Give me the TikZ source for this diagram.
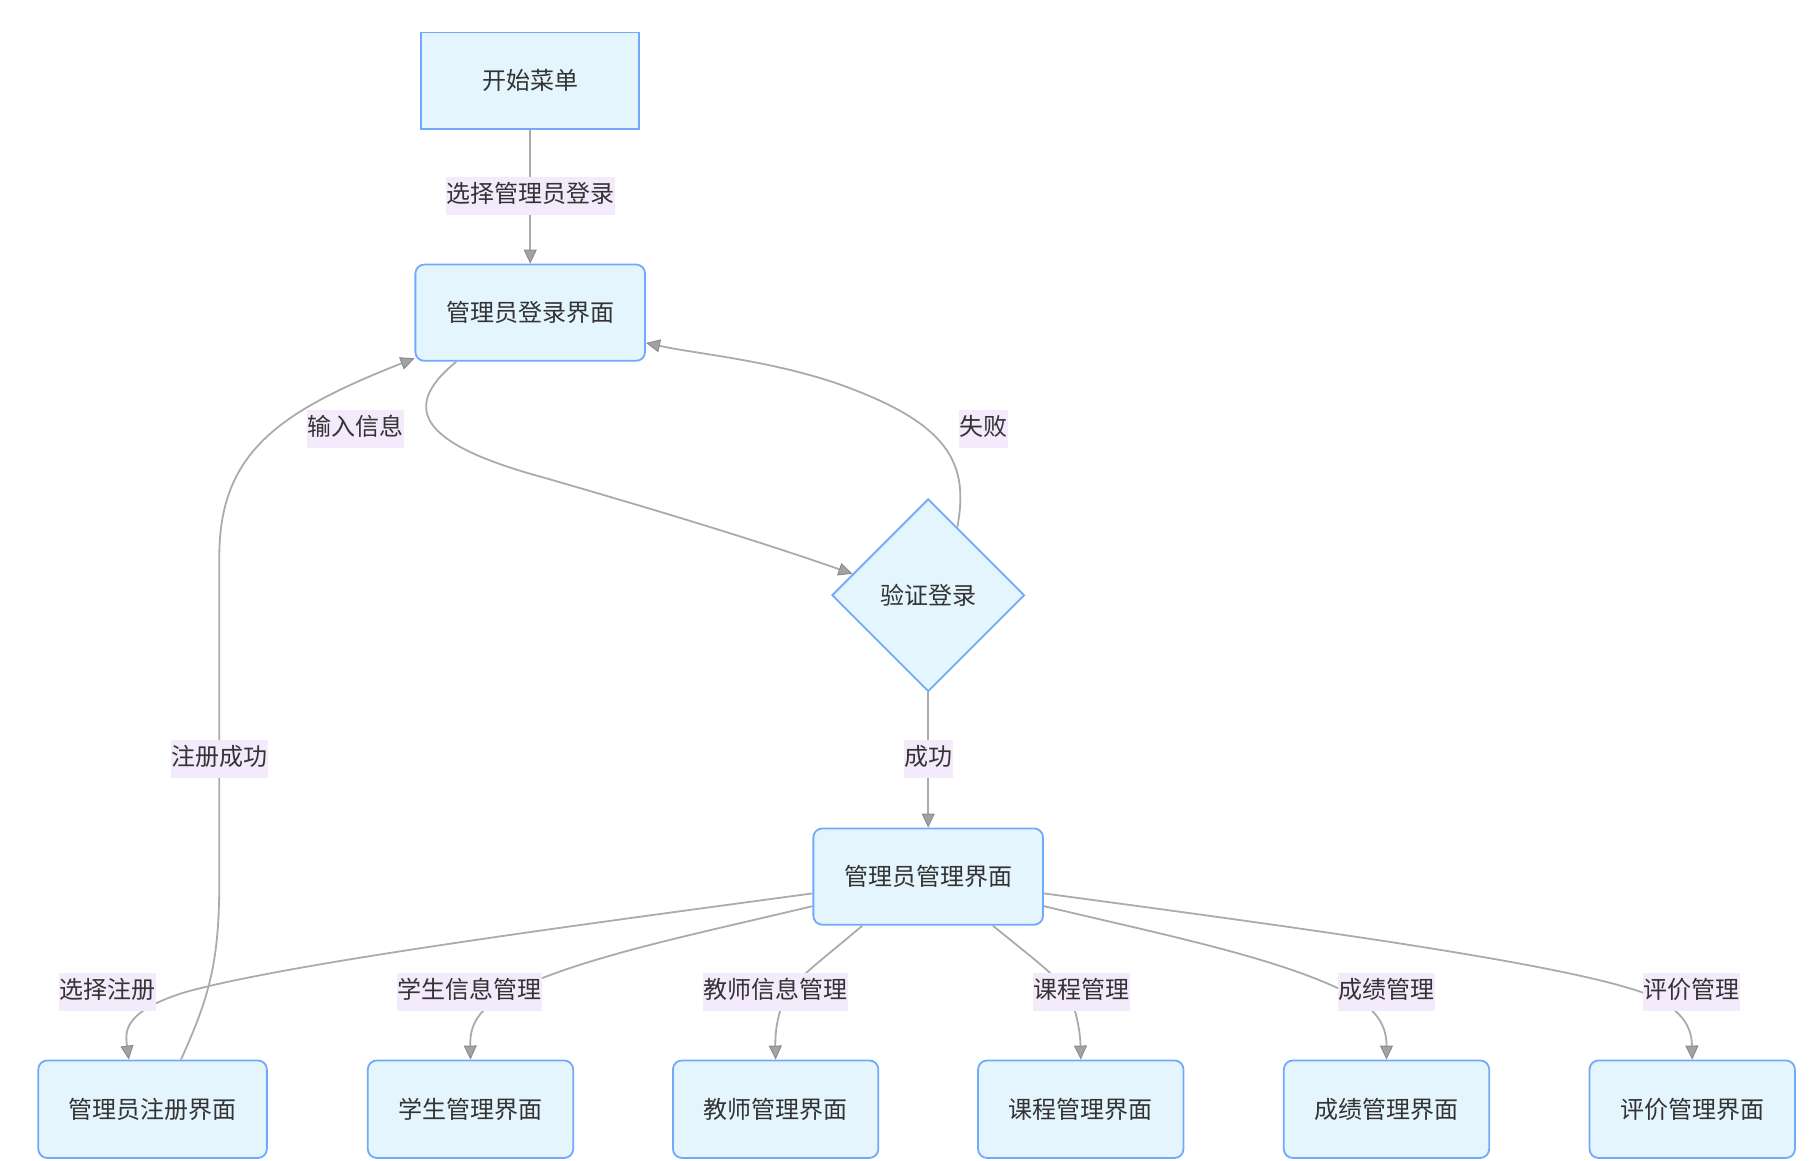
\documentclass[tikz,border=0pt]{standalone}
\usepackage{fontspec}
\setmainfont{Noto Sans CJK SC}
\usetikzlibrary{shapes.geometric,arrows.meta,calc}
\definecolor{nodefill}{HTML}{E5F5FE}
\definecolor{nodeline}{HTML}{72A9F8}
\definecolor{edgecol}{HTML}{ABABAB}
\definecolor{tipfill}{HTML}{A3A3A3}
\definecolor{tipline}{HTML}{8C8C8C}
\definecolor{lblbg}{HTML}{F3EBFC}
\definecolor{txt}{HTML}{333333}
\tikzset{
  base/.style={draw=nodeline, fill=nodefill, line width=1.8pt, text=txt,
    font=\fontsize{24pt}{28pt}\selectfont, inner sep=0pt},
  sqbox/.style={base, rectangle, minimum width=218.1pt, minimum height=96.3pt},
  rbox/.style={base, rectangle, rounded corners=9pt, minimum width=229.7pt, minimum height=96.3pt},
  wbox/.style={base, rectangle, rounded corners=9pt, minimum width=228.6pt, minimum height=97.5pt},
  nbox/.style={base, rectangle, rounded corners=9pt, minimum width=205.4pt, minimum height=97.5pt},
  decide/.style={base, diamond, shape aspect=1, minimum width=192.6pt, minimum height=192.6pt},
  lbl/.style={fill=lblbg, text=txt, font=\fontsize{24pt}{28pt}\selectfont,
    inner xsep=0.5pt, inner ysep=6.5pt, text height=19pt, text depth=6pt},
  conn/.style={draw=edgecol, line width=1.8pt,
    -{Triangle[length=14pt,width=13pt,fill=tipfill,color=tipline,line width=1pt]}},
}
\begin{document}
\begin{tikzpicture}[x=1.16026pt,y=-1.16026pt]
\useasboundingbox (0,0) rectangle (1560,1000.6);

% nodes
\node[sqbox] (A) at (457,69.5) {开始菜单};
\node[rbox] (B) at (457,269.5) {管理员登录界面};
\node[decide] (C) at (800,513) {验证登录};
\node[rbox] (D) at (800,755.5) {管理员管理界面};
\node[wbox] (E) at (131.5,956) {管理员注册界面};
\node[nbox] (F) at (405.5,956) {学生管理界面};
\node[nbox] (G) at (668.5,956) {教师管理界面};
\node[nbox] (H) at (931.5,956) {课程管理界面};
\node[nbox] (I) at (1195,956) {成绩管理界面};
\node[nbox] (J) at (1458.5,956) {评价管理界面};

% connectors
\draw[conn] (A.south) -- (B.north);
\draw[conn] ($(B.south west)+(36,0)$) .. controls (340,355) and (370,385) .. (470,412)
   .. controls (560,438) and (650,465) .. ($(C.west)!0.22!(C.north)$);
\draw[conn] ($(C.north)!0.3!(C.east)$) .. controls (835,400) and (820,365) .. (720,330)
   .. controls (660,310) and (600,305) .. ($(B.east)+(0,26)$);
\draw[conn] ($(E.north)+(24.5,0)$) .. controls (180,860) and (189,830) .. (189,760)
   -- (189,480) .. controls (189,390) and (240,355) .. ($(B.south west)+(0,-3)$);
\draw[conn] (C.south) -- (D.north);
\draw[conn] ($(D.west)+(0,14.5)$) .. controls (500,797) and (250,830) .. (160,855)
   .. controls (105,872) and (108,890) .. ($(E.north)+(-20.5,0)$);
\draw[conn] ($(D.west)+(0,25.5)$) .. controls (600,805) and (500,825) .. (440,855)
   .. controls (410,870) and (405,885) .. (F.north);
\draw[conn] ($(D.south west)+(43,0)$) .. controls (715,822) and (690,840) .. (680,855)
   .. controls (670,870) and (668,890) .. (G.north);
\draw[conn] ($(D.south east)+(-44,0)$) .. controls (885,822) and (910,840) .. (920,855)
   .. controls (928,870) and (931,890) .. (H.north);
\draw[conn] ($(D.east)+(0,25.5)$) .. controls (1000,805) and (1100,825) .. (1160,855)
   .. controls (1188,870) and (1195,885) .. (I.north);
\draw[conn] ($(D.east)+(0,14.5)$) .. controls (1100,797) and (1350,830) .. (1420,857)
   .. controls (1455,872) and (1458,890) .. (J.north);

% labels
\node[lbl] (l1) at (457,169) {选择管理员登录};
\node[lbl] (l2) at (306,370) {输入信息};
\node[lbl] (l3) at (848,370) {失败};
\node[lbl] (l4) at (189,654) {注册成功};
\node[lbl] (l5) at (800,654) {成功};
\node[lbl] (l6) at (93,855) {选择注册};
\node[lbl] (l7) at (405,855) {学生信息管理};
\node[lbl] (l8) at (668,855) {教师信息管理};
\node[lbl] (l9) at (932,855) {课程管理};
\node[lbl] (l10) at (1195,855) {成绩管理};
\node[lbl] (l11) at (1458,855) {评价管理};
\end{tikzpicture}
\end{document}
